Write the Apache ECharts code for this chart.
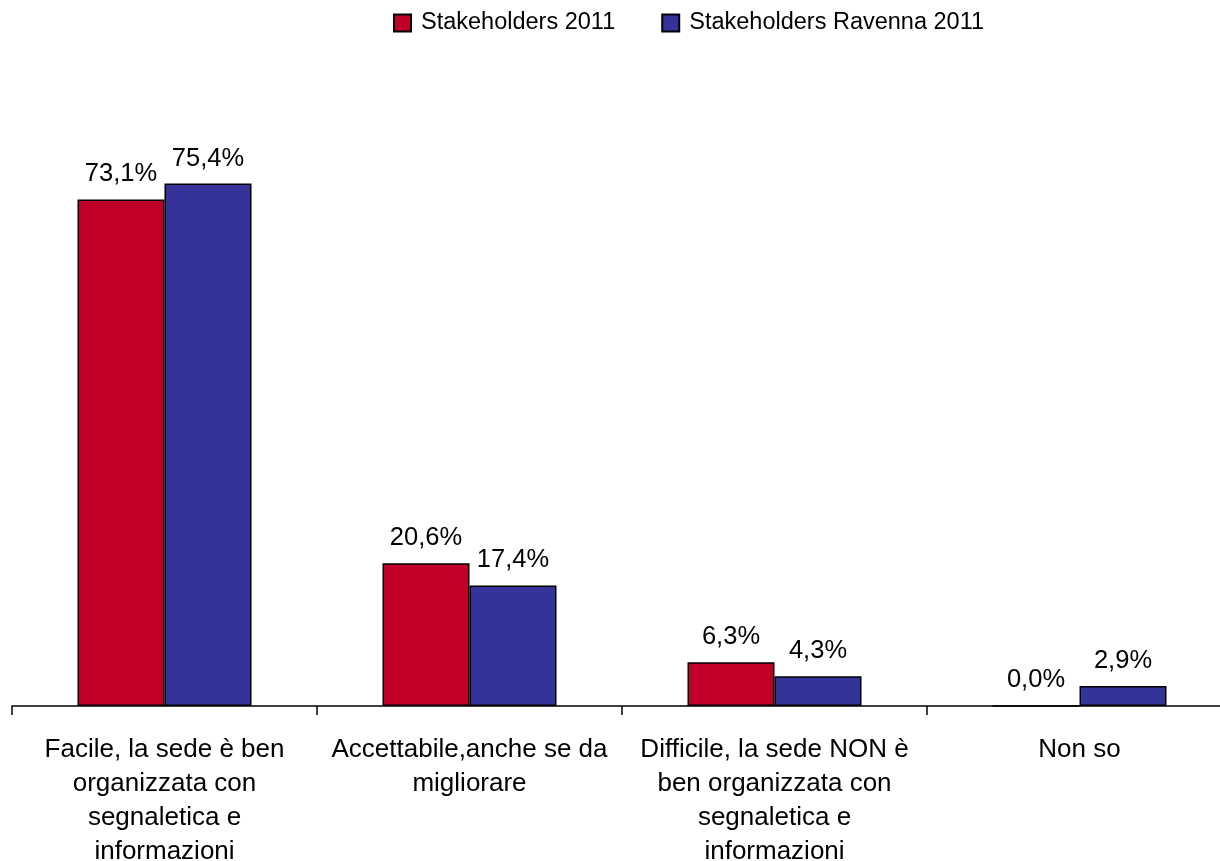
<!DOCTYPE html>
<html>
<head>
<meta charset="utf-8">
<script src="https://cdn.jsdelivr.net/npm/echarts@6/dist/echarts.min.js"></script>
<style>
  html, body { margin: 0; padding: 0; background: #fff; overflow: hidden; }
  #chart { width: 1232px; height: 861px; }
</style>
</head>
<body>
<div id="chart"></div>
<script>
var categories = [
    'Facile, la sede è ben\norganizzata con\nsegnaletica e\ninformazioni',
    'Accettabile,anche se da\nmigliorare',
    'Difficile, la sede NON è\nben organizzata con\nsegnaletica e\ninformazioni',
    'Non so'
];
var seriesNames = ['Stakeholders 2011', 'Stakeholders Ravenna 2011'];
var stakeholders = [73.1, 20.6, 6.3, 0.0];
var stakeholdersRavenna = [75.4, 17.4, 4.3, 2.9];

var font = 'Liberation Sans, Arial, sans-serif';

function pct(p) {
    return p.value.toFixed(1).replace('.', ',') + '%';
}

function barSeries(name, data, color) {
    return {
        name: name,
        type: 'bar',
        data: data,
        barWidth: 87,
        barGap: '0%',
        itemStyle: {
            color: color,
            borderColor: '#000',
            borderWidth: 1.5
        },
        label: {
            show: true,
            position: 'top',
            distance: 12,
            formatter: pct,
            color: '#000',
            fontFamily: font,
            fontSize: 25.5
        }
    };
}

// the plot runs a little past the right edge of the window, as in the original
echarts.init(document.getElementById('chart')).setOption({
    animation: false,
    grid: {
        left: 12,
        right: 0,
        top: 13,
        bottom: 155,
        outerBoundsMode: 'none'
    },
    legend: {
        top: 6,
        left: 388,
        itemWidth: 17,
        itemHeight: 17,
        itemGap: 46,
        icon: 'rect',
        textStyle: {
            color: '#000',
            fontFamily: font,
            fontSize: 23.5,
            padding: [0, 0, 0, 5]
        },
        data: seriesNames
    },
    xAxis: {
        type: 'category',
        data: categories,
        axisLine: { lineStyle: { color: '#000', width: 1.5 } },
        axisTick: { show: true, length: 9, lineStyle: { color: '#000', width: 1.5 } },
        axisLabel: {
            interval: 0,
            margin: 27,
            color: '#000',
            fontFamily: font,
            fontSize: 26,
            lineHeight: 34
        }
    },
    yAxis: {
        type: 'value',
        min: 0,
        max: 100,
        show: false
    },
    series: [
        barSeries(seriesNames[0], stakeholders, '#C00028'),
        barSeries(seriesNames[1], stakeholdersRavenna, '#333399')
    ]
});
</script>
</body>
</html>
